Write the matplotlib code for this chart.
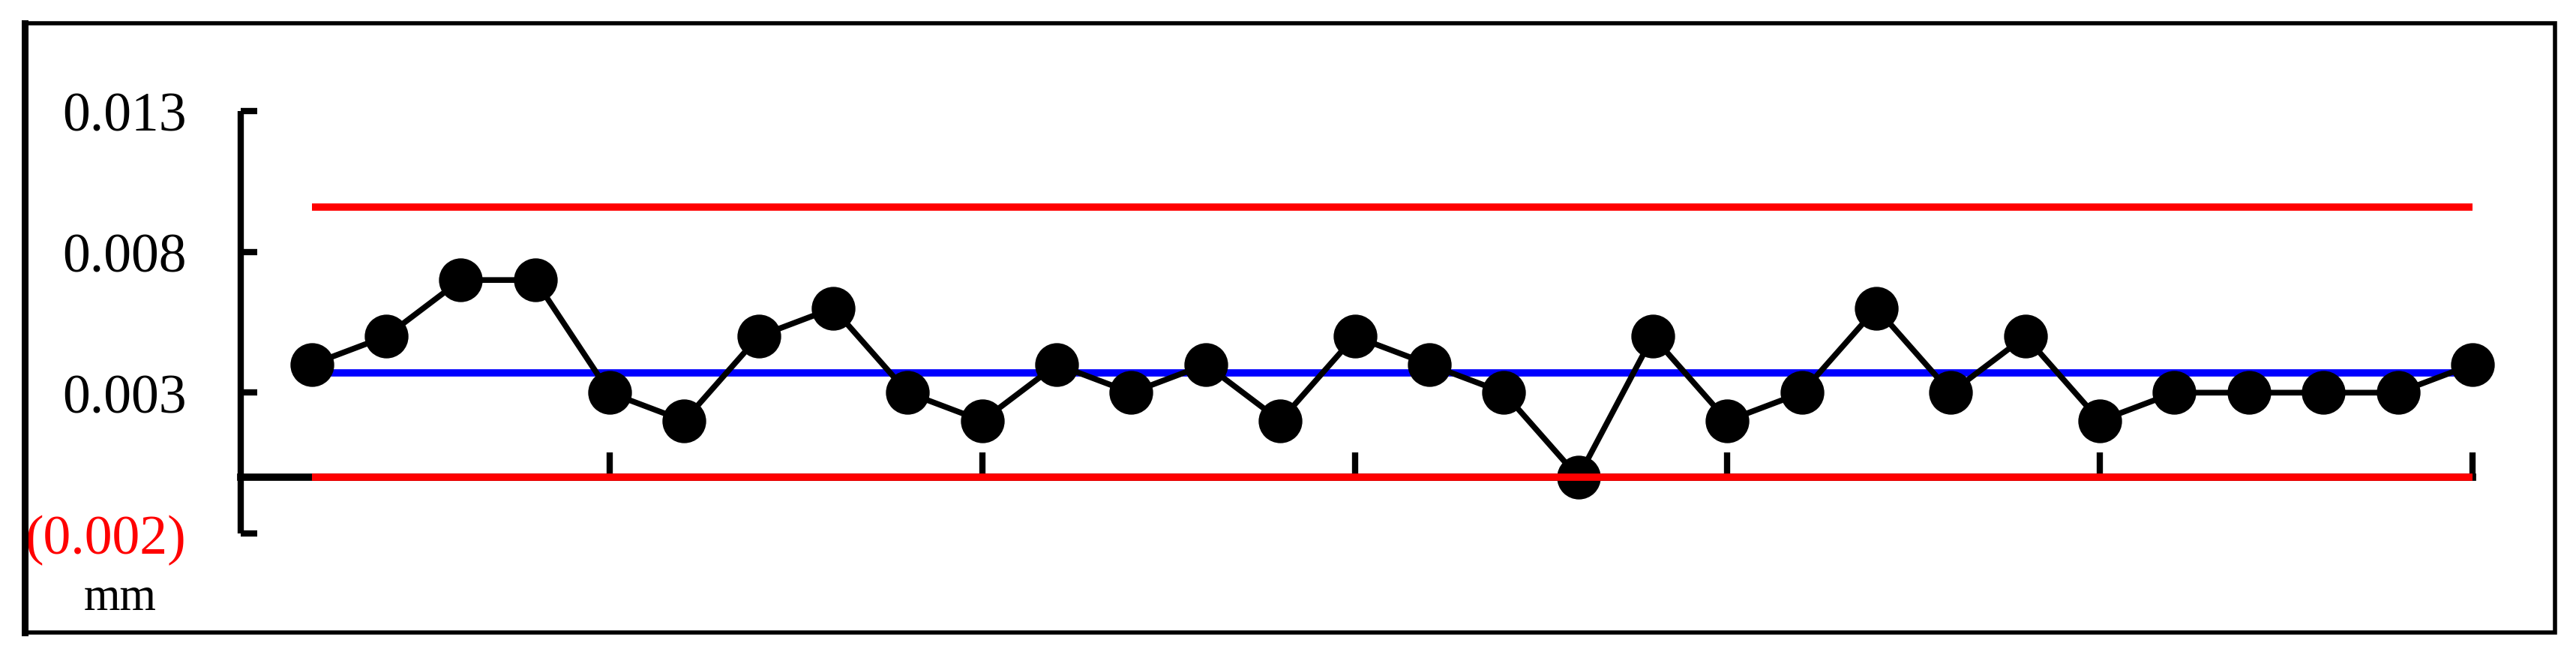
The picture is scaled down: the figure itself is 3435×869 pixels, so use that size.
import matplotlib
matplotlib.use("Agg")
import matplotlib.pyplot as plt
from matplotlib.patches import Rectangle
from matplotlib.lines import Line2D

# individual readings (mm), 30 samples
sample = list(range(1, 31))
reading = [0.004, 0.005, 0.007, 0.007, 0.003, 0.002, 0.005, 0.006, 0.003, 0.002,
           0.004, 0.003, 0.004, 0.002, 0.005, 0.004, 0.003, 0.000, 0.005, 0.002,
           0.003, 0.006, 0.003, 0.005, 0.002, 0.003, 0.003, 0.003, 0.003, 0.004]

upper_limit = 0.0096
lower_limit = 0.0
center_line = sum(reading) / len(reading)

y_ticks = [-0.002, 0.003, 0.008, 0.013]
y_labels = ["(0.002)", "0.003", "0.008", "0.013"]
x_ticks = [5, 10, 15, 20, 25, 30]
unit = "mm"

plt.rcParams['font.family'] = ['Liberation Serif', 'DejaVu Serif']

fig = plt.figure(figsize=(34.35, 8.7), dpi=100)
ax = fig.add_axes([0.0935, 0.1816, 0.9598 - 0.0935, 0.8287 - 0.1816])

x0, x1 = sample[0], sample[-1]
ax.plot([x0, x1], [center_line, center_line], color='#0000FF', lw=7, zorder=1,
        solid_capstyle='butt')
ax.plot(sample, reading, color='black', lw=5.5, marker='o', markersize=41,
        markerfacecolor='black', markeredgecolor='black', zorder=2, clip_on=False)
ax.plot([x0, x1], [upper_limit, upper_limit], color='#FF0000', lw=7, zorder=3,
        solid_capstyle='butt')
ax.plot([x0, x1], [lower_limit, lower_limit], color='#FF0000', lw=7, zorder=3,
        solid_capstyle='butt', clip_on=False)

ax.set_xlim(0.05, 30)
ax.set_ylim(-0.002, 0.013)

for side in ['top', 'right']:
    ax.spines[side].set_visible(False)
ax.spines['bottom'].set_position(('data', 0))
ax.spines['bottom'].set_linewidth(7)
ax.spines['left'].set_linewidth(6)
ax.spines['left'].set_capstyle('butt')

ax.set_yticks(y_ticks)
ax.set_yticklabels(y_labels, fontsize=53)
ax.tick_params(axis='y', direction='in', length=16, width=6, pad=52)
ax.get_yticklabels()[0].set_color('#FF0000')

ax.set_xticks(x_ticks)
ax.set_xticklabels([])
ax.tick_params(axis='x', direction='in', length=24, width=6)

fig.text(0.0466, 0.083, unit, fontsize=45, ha='center', va='center')

# frame around the whole picture
fig.add_artist(Rectangle((33 / 3435, 26 / 870), 3374 / 3435, 812 / 870,
                         transform=fig.transFigure, fill=False,
                         ec='black', lw=4))
fig.add_artist(Line2D([33 / 3435, 33 / 3435], [26 / 870, 838 / 870],
                      transform=fig.transFigure, color='black', lw=6.5))

fig.savefig("out.png", dpi=100)
